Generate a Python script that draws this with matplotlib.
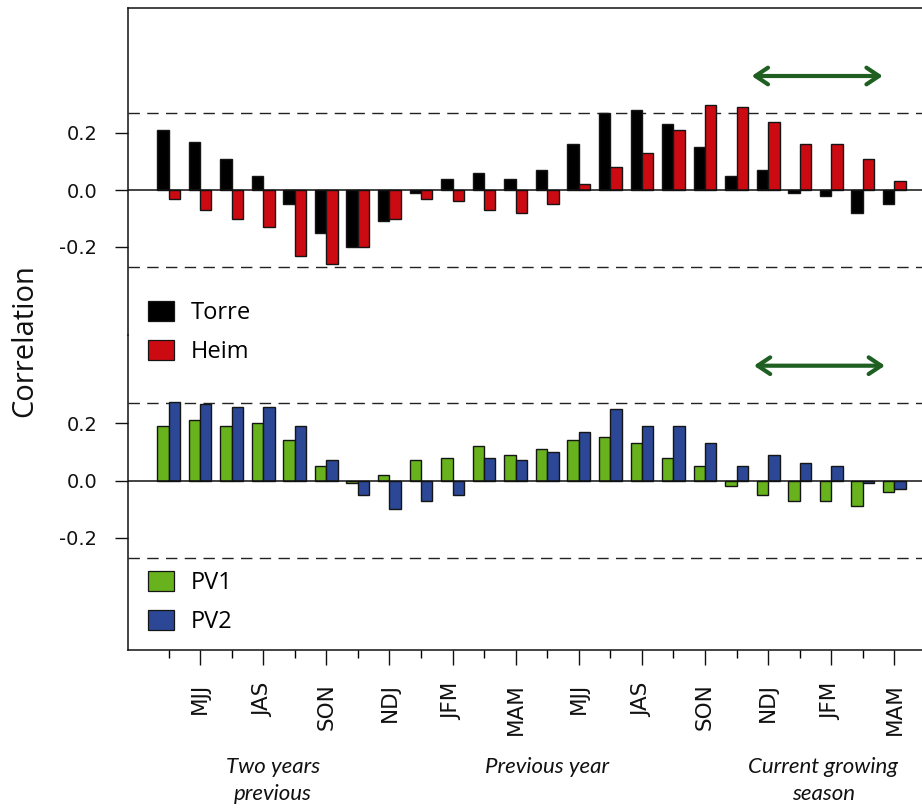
import matplotlib
matplotlib.use("Agg")
import matplotlib.pyplot as plt
from matplotlib.patches import FancyArrowPatch, Patch
from matplotlib.transforms import blended_transform_factory
import numpy as np

# ---------------- data ----------------
season_labels = ['MJJ', 'JAS', 'SON', 'NDJ', 'JFM', 'MAM',
                 'MJJ', 'JAS', 'SON', 'NDJ', 'JFM', 'MAM']
torre = [0.21, 0.17, 0.11, 0.05, -0.05, -0.15, -0.20, -0.11, -0.01, 0.04, 0.06, 0.04,
         0.07, 0.16, 0.27, 0.28, 0.23, 0.15, 0.05, 0.07, -0.01, -0.02, -0.08, -0.05]
heim = [-0.03, -0.07, -0.10, -0.13, -0.23, -0.26, -0.20, -0.10, -0.03, -0.04, -0.07, -0.08,
        -0.05, 0.02, 0.08, 0.13, 0.21, 0.30, 0.29, 0.24, 0.16, 0.16, 0.11, 0.03]
pv1 = [0.19, 0.21, 0.19, 0.20, 0.14, 0.05, -0.01, 0.02, 0.07, 0.08, 0.12, 0.09,
       0.11, 0.14, 0.15, 0.13, 0.08, 0.05, -0.02, -0.05, -0.07, -0.07, -0.09, -0.04]
pv2 = [0.275, 0.265, 0.255, 0.255, 0.19, 0.07, -0.05, -0.10, -0.07, -0.05, 0.08, 0.07,
       0.10, 0.17, 0.25, 0.19, 0.19, 0.13, 0.05, 0.09, 0.06, 0.05, -0.01, -0.03]
sig_level = 0.27
period_labels = ['Two years\nprevious', 'Previous year', 'Current growing\nseason']
period_centers = [3.3, 12.0, 20.75]
arrow_span_top = (18.48, 22.63)
arrow_span_bottom = (18.55, 22.70)
arrow_y = 0.40

# ---------------- style ----------------
W, H = 922, 808
fig = plt.figure(figsize=(W / 100, H / 100), dpi=100)
fig.patch.set_facecolor('white')

left = 128 / W
axt = fig.add_axes([left, 1 - 335 / H, 1 - left, 327 / H])
axb = fig.add_axes([left, 1 - 650 / H, 1 - left, 315 / H], sharex=axt)

n = len(torre)
x = np.arange(n)
w = 0.36
edge = '#151515'

c_torre, c_heim = '#000000', '#cc0a12'
c_pv1, c_pv2 = '#67b21d', '#2b4795'

axt.bar(x - w / 2, torre, w, color=c_torre, edgecolor=edge, linewidth=1.0, zorder=2)
axt.bar(x + w / 2, heim, w, color=c_heim, edgecolor=edge, linewidth=1.0, zorder=2)
axb.bar(x - w / 2, pv1, w, color=c_pv1, edgecolor=edge, linewidth=1.0, zorder=2)
axb.bar(x + w / 2, pv2, w, color=c_pv2, edgecolor=edge, linewidth=1.0, zorder=2)

axt.set_ylim(-(335 - 190) / 285, (190 - 8) / 285)
axb.set_ylim(-(650 - 480.5) / 287, (480.5 - 335) / 287)
axt.set_xlim(-(168.5 - 128) / 31.56, (922 - 168.5) / 31.56)

for ax in (axt, axb):
    ax.axhline(0, color='#111111', lw=1.1, zorder=3)
    for s in (sig_level, -sig_level):
        ax.axhline(s, color='#222222', lw=1.0, dashes=(8.2, 5.3), zorder=1)
    ax.set_yticks([-0.2, 0.0, 0.2])
    ax.set_yticklabels(['-0.2', '0.0', '0.2'])
    ax.tick_params(axis='y', direction='out', length=9.1, width=1.0, pad=13,
                   labelsize=14, colors='#111111')
    ax.spines['right'].set_visible(False)
    for sp in ax.spines.values():
        sp.set_linewidth(1.1)
        sp.set_color('#111111')
    ax.set_facecolor('none')

axt.spines['bottom'].set_visible(False)
axb.spines['top'].set_visible(False)
axt.tick_params(axis='x', which='both', bottom=False, labelbottom=False)

# x ticks: long at labelled seasons, short in between
axb.set_xticks(x[1::2])
axb.set_xticklabels(season_labels, rotation=90, va='top', ha='center')
axb.set_xticks(x[0::2], minor=True)
axb.tick_params(axis='x', which='major', direction='out', length=10.8, width=1.0,
                pad=13, labelsize=15.5, colors='#111111')
axb.tick_params(axis='x', which='minor', direction='out', length=5.4, width=1.0)

# legends
leg_kw = dict(frameon=False, handlelength=1.1, handleheight=0.95,
              handletextpad=0.7, labelspacing=0.62, borderpad=0, borderaxespad=0,
              loc='upper left', bbox_transform=fig.transFigure,
              prop={'family': 'Open Sans', 'size': 17})
h1 = [Patch(facecolor=c_torre, edgecolor=edge, lw=0.9), Patch(facecolor=c_heim, edgecolor=edge, lw=0.9)]
axt.legend(h1, ['Torre', 'Heim'], bbox_to_anchor=(148 / W, 1 - 301 / H), **leg_kw)
h2 = [Patch(facecolor=c_pv1, edgecolor=edge, lw=0.9), Patch(facecolor=c_pv2, edgecolor=edge, lw=0.9)]
axb.legend(h2, ['PV1', 'PV2'], bbox_to_anchor=(148 / W, 1 - 571 / H), **leg_kw)

# arrows (current growing season)
arrow_color = '#1f5f22'
for ax, span in ((axt, arrow_span_top), (axb, arrow_span_bottom)):
    arr = FancyArrowPatch((span[0], arrow_y), (span[1], arrow_y),
                          arrowstyle='<->,head_length=0.45,head_width=0.3',
                          mutation_scale=20, color=arrow_color, lw=3.0,
                          shrinkA=0, shrinkB=0, zorder=4)
    ax.add_patch(arr)

# y label
fig.text(25 / W, 1 - 341 / H, 'Correlation', rotation=90, ha='center', va='center',
         fontsize=21, family='Open Sans', color='#111111')

# period labels
tr = blended_transform_factory(axb.transData, fig.transFigure)
for lab, cx in zip(period_labels, period_centers):
    axb.text(cx, 1 - 757 / H, lab, transform=tr, ha='center', va='top',
             fontsize=16, style='italic', linespacing=1.45,
             family=['Lato', 'DejaVu Sans'], color='#111111')

fig.savefig('out.png', dpi=100, facecolor='white')
